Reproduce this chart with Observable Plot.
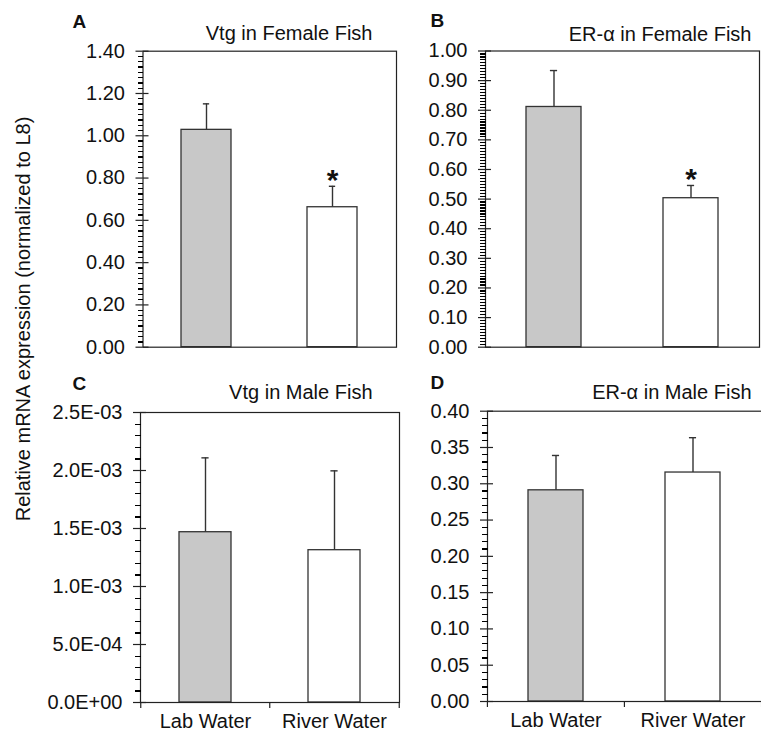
<!DOCTYPE html>
<html>
<head>
<meta charset="utf-8">
<script src="https://cdn.jsdelivr.net/npm/d3@7"></script>
<script src="https://cdn.jsdelivr.net/npm/@observablehq/plot@0.6"></script>
<style>
  html, body { margin: 0; padding: 0; background: #fff; overflow: hidden; }
  #wrap { position: relative; width: 761px; height: 739px; overflow: hidden; background: #fff;
          font-family: "Liberation Sans", Arial, sans-serif; }
  #wrap > svg { position: absolute; }
</style>
</head>
<body>
<div id="wrap"></div>
<script>
// ---------- data ----------
const categories = ["Lab Water", "River Water"];
const barFills = ["#c8c8c8", "#ffffff"];

const vtgFemaleMean = [1.028, 0.662];
const vtgFemaleErr  = [0.123, 0.099];
const vtgFemaleSig  = [false, true];

const erFemaleMean = [0.811, 0.503];
const erFemaleErr  = [0.123, 0.043];
const erFemaleSig  = [false, true];

const vtgMaleMean = [1.468e-3, 1.313e-3];
const vtgMaleErr  = [0.641e-3, 0.684e-3];
const vtgMaleSig  = [false, false];

const erMaleMean = [0.291, 0.3155];
const erMaleErr  = [0.048, 0.048];
const erMaleSig  = [false, false];

const aTicks = [0, 0.2, 0.4, 0.6, 0.8, 1.0, 1.2, 1.4];
const aTickLabels = ["0.00", "0.20", "0.40", "0.60", "0.80", "1.00", "1.20", "1.40"];
const bTicks = [0, 0.1, 0.2, 0.3, 0.4, 0.5, 0.6, 0.7, 0.8, 0.9, 1.0];
const bTickLabels = ["0.00", "0.10", "0.20", "0.30", "0.40", "0.50", "0.60", "0.70", "0.80", "0.90", "1.00"];
const cTicks = [0, 5e-4, 1e-3, 1.5e-3, 2e-3, 2.5e-3];
const cTickLabels = ["0.0E+00", "5.0E-04", "1.0E-03", "1.5E-03", "2.0E-03", "2.5E-03"];
const dTicks = [0, 0.05, 0.1, 0.15, 0.2, 0.25, 0.3, 0.35, 0.4];
const dTickLabels = ["0.00", "0.05", "0.10", "0.15", "0.20", "0.25", "0.30", "0.35", "0.40"];

const panelLetters = ["A", "B", "C", "D"];
const panelTitles = ["Vtg in Female Fish", "ER-\u03b1 in Female Fish", "Vtg in Male Fish", "ER-\u03b1 in Male Fish"];
const yTitle = "Relative mRNA expression (normalized to L8)";

// ---------- layout ----------
const FONT = '"Liberation Sans", Arial, sans-serif';
const INK = "#222";
const BAR_INK = "#333";

const panels = [
  {mean: vtgFemaleMean, err: vtgFemaleErr, sig: vtgFemaleSig, ticks: aTicks, labels: aTickLabels, minor: 0.025,
   left: 0, top: 0, width: 400, height: 370, ml: 142.5, mr: 4, mt: 50.7, mb: 23.3, xAxis: false,
   letterX: 72, letterY: 27, titleR: 372, titleY: 39.5},
  {mean: erFemaleMean, err: erFemaleErr, sig: erFemaleSig, ticks: bTicks, labels: bTickLabels, minor: 0.01,
   left: 400, top: 0, width: 361, height: 370, ml: 85, mr: 2, mt: 50.5, mb: 23.3, xAxis: false,
   letterX: 430, letterY: 26.5, titleR: 751, titleY: 40.5},
  {mean: vtgMaleMean, err: vtgMaleErr, sig: vtgMaleSig, ticks: cTicks, labels: cTickLabels, minor: 1e-4,
   left: 0, top: 370, width: 400, height: 369, ml: 140, mr: 1, mt: 42, mb: 37, xAxis: true,
   letterX: 72, letterY: 389, titleR: 372, titleY: 398.5},
  {mean: erMaleMean, err: erMaleErr, sig: erMaleSig, ticks: dTicks, labels: dTickLabels, minor: 0.01,
   left: 400, top: 370, width: 362, height: 369, ml: 87, mr: 0.7, mt: 40.7, mb: 38, xAxis: true,
   letterX: 430, letterY: 388, titleR: 751, titleY: 398}
];

const wrap = document.getElementById("wrap");

panels.forEach((p, k) => {
  const rows = categories.map((c, i) => ({cat: c, mean: p.mean[i], top: p.mean[i] + p.err[i], sig: p.sig[i]}));
  const innerW = p.width - p.ml - p.mr;
  const innerH = p.height - p.mt - p.mb;
  const step = innerW / 2;            // paddingInner 0.6, paddingOuter 0.3 => step = innerW / 2
  const bandW = step * 0.4;
  const capInset = (bandW - 7) / 2;
  const yMax = p.ticks[p.ticks.length - 1];
  const nMinor = Math.round(yMax / p.minor);
  const majorEvery = Math.round((p.ticks[1] - p.ticks[0]) / p.minor);
  const minorTicks = [];
  for (let j = 0; j <= nMinor; j++) if (j % majorEvery !== 0) minorTicks.push(j * p.minor);
  const frameL = p.left + p.ml, frameR = p.left + p.width - p.mr, frameT = p.top + p.mt;

  const marks = [
    Plot.barY(rows, {x: "cat", y: "mean", fill: "cat", stroke: BAR_INK, strokeWidth: 1.3}),
    Plot.ruleX(rows, {x: "cat", y1: "mean", y2: "top", stroke: BAR_INK, strokeWidth: 1.4}),
    Plot.tickY(rows, {x: "cat", y: "top", stroke: BAR_INK, strokeWidth: 1.4, insetLeft: capInset, insetRight: capInset}),
    Plot.text(rows.filter(d => d.sig), {x: "cat", y: "top", text: () => "*", lineAnchor: "bottom",
      dy: 4, fontSize: 30, fontWeight: "bold", fill: "#111"}),
    Plot.frame({stroke: INK, strokeWidth: 1.2}),
    // minor ticks (outward only)
    Plot.tickY(minorTicks, {y: d => d, dx: -5, insetRight: innerW - 5.5, stroke: "#000", strokeWidth: 1.2,
      shapeRendering: "crispEdges"}),
    // major ticks: outward part + labels
    Plot.axisY({ticks: p.ticks, tickFormat: d => p.labels[p.ticks.indexOf(d)], tickSize: 7, tickPadding: 11,
      fontSize: 20, label: null, stroke: INK, strokeWidth: 1.2, fill: "#111"}),
    // major ticks: inward part
    Plot.tickY(p.ticks, {y: d => d, insetRight: innerW - 6, stroke: INK, strokeWidth: 1.2}),
    Plot.text([panelTitles[k]], {frameAnchor: "top-right", textAnchor: "end", lineAnchor: "bottom",
      dx: p.titleR - frameR, dy: p.titleY - frameT, fontSize: 20, fill: "#111"}),
    Plot.text([panelLetters[k]], {frameAnchor: "top-left", textAnchor: "start", lineAnchor: "bottom",
      dx: p.letterX - frameL, dy: p.letterY - frameT, fontSize: 19, fontWeight: "bold", fill: "#111"})
  ];
  if (p.xAxis) {
    marks.push(
      Plot.axisX({tickSize: 0, tickPadding: 11, fontSize: 20, label: null, fill: "#111"}),
      Plot.ruleX(categories, {x: d => d, dx: -step / 2, insetTop: innerH, insetBottom: -6, stroke: INK, strokeWidth: 1.2}),
      Plot.ruleX([categories[categories.length - 1]], {x: d => d, dx: step / 2, insetTop: innerH, insetBottom: -6, stroke: INK, strokeWidth: 1.2})
    );
  }

  const chart = Plot.plot({
    width: p.width,
    height: p.height,
    marginLeft: p.ml,
    marginRight: p.mr,
    marginTop: p.mt,
    marginBottom: p.mb,
    style: {fontFamily: FONT, fontSize: "20px", background: "transparent", overflow: "visible"},
    x: {type: "band", domain: categories, paddingInner: 0.6, paddingOuter: 0.3, axis: null, label: null},
    y: {domain: [0, yMax], axis: null, label: null},
    color: {domain: categories, range: barFills},
    marks
  });
  chart.style.position = "absolute";
  chart.style.left = p.left + "px";
  chart.style.top = p.top + "px";
  wrap.appendChild(chart);
});

// shared y-axis title
const overlay = d3.create("svg")
  .attr("width", 761).attr("height", 739)
  .style("position", "absolute").style("left", "0px").style("top", "0px")
  .style("pointer-events", "none");
overlay.append("text")
  .attr("transform", "translate(29.5,319) rotate(-90)")
  .attr("text-anchor", "middle")
  .attr("font-family", FONT)
  .attr("font-size", 20)
  .attr("fill", "#111")
  .text(yTitle);
wrap.appendChild(overlay.node());
</script>
</body>
</html>
